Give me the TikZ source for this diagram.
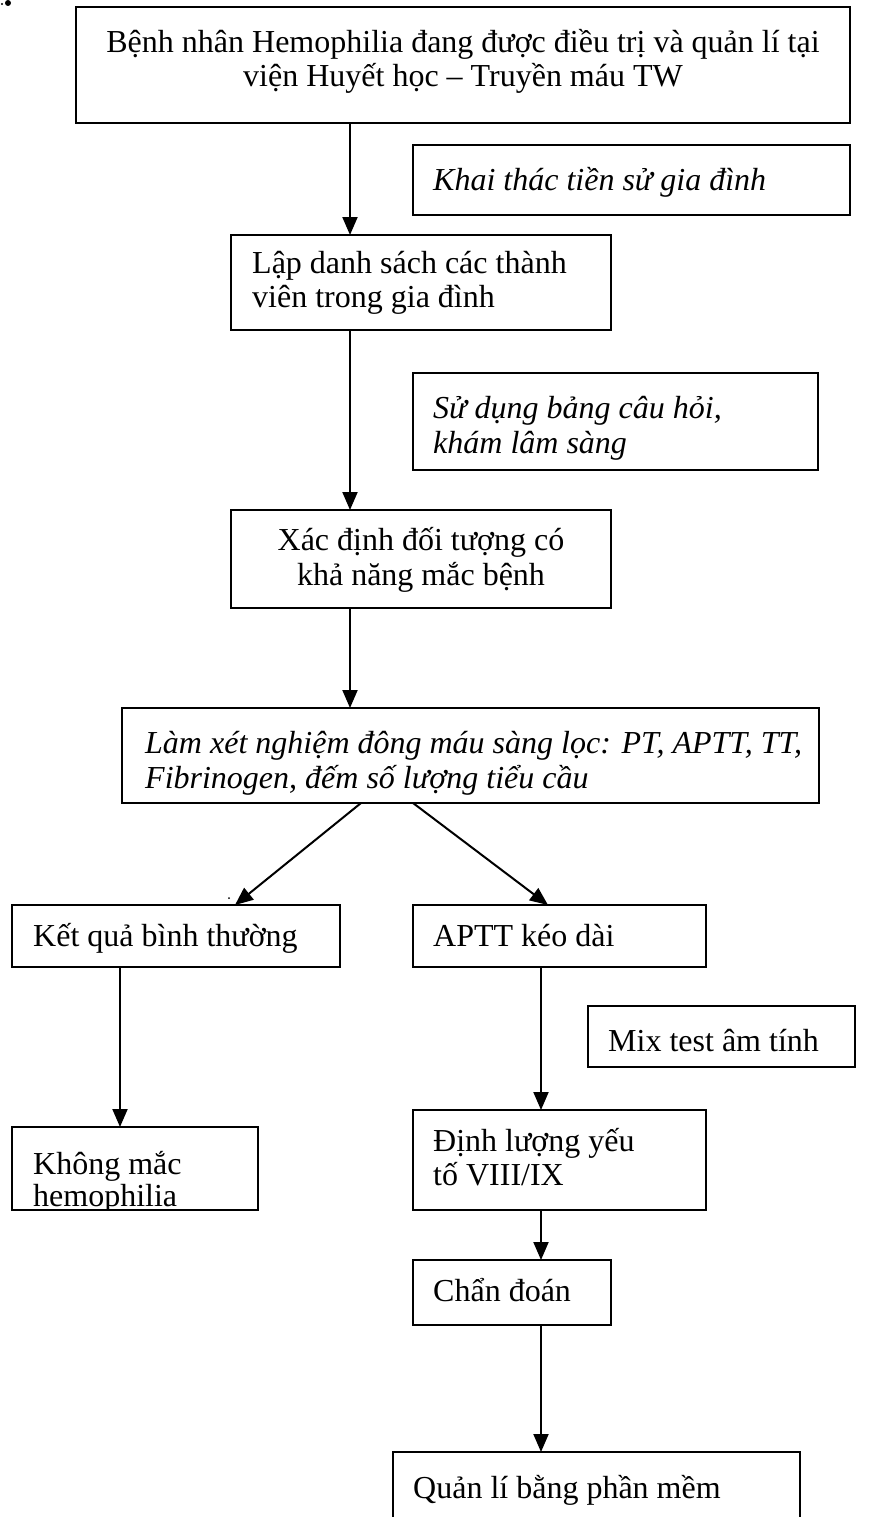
\documentclass[tikz,border=0pt]{standalone}
\usepackage{fontspec}
\setmainfont{Liberation Serif}
\usetikzlibrary{arrows.meta,calc}
\tikzset{
  boxn/.style={draw, line width=2pt, anchor=north west, inner sep=0pt, outer sep=0pt},
  txt/.style={anchor=base west, inner sep=0pt, font=\fontsize{32}{35}\selectfont},
  itxt/.style={txt, font=\fontsize{32}{35}\selectfont\itshape},
  ctxt/.style={txt, anchor=base},
  arr/.style={line width=2pt, -{Triangle[length=18pt,width=15pt]}},
}
\newcommand{\bx}[5]{\node[boxn, minimum width=#4pt, minimum height=#5pt] (#1) at (#2pt,-#3pt) {};}
\begin{document}
\begin{tikzpicture}[x=1pt,y=1pt]
\clip (0,0) rectangle (888,-1517);
\fill[white] (0,0) rectangle (888,-1517);
% stray marks
\fill (2,-4) circle (1.2) (8,-3) circle (3);
\fill (229,-898) circle (1);
% boxes
\bx{b1}{76}{7}{774}{116}
\bx{b2}{413}{145}{437}{70}
\bx{b3}{231}{235}{380}{95}
\bx{b4}{413}{373}{405}{97}
\bx{b5}{231}{510}{380}{98}
\bx{b6}{122}{708}{697}{95}
\bx{b7}{12}{905}{328}{62}
\bx{b8}{413}{905}{293}{62}
\bx{b9}{588}{1006}{267}{61}
\bx{b10}{413}{1110}{293}{100}
\bx{b11}{12}{1127}{246}{83}
\bx{b12}{413}{1260}{198}{65}
\bx{b13}{393}{1452}{407}{100}
% texts
\node[ctxt] (t1a) at (463,-53) {Bệnh nhân Hemophilia đang được điều trị và quản lí tại};
\node[ctxt] (t1b) at (463,-87) {viện Huyết học – Truyền máu TW};
\node[itxt] (t2) at (433,-190) {Khai thác tiền sử gia đình};
\node[txt] (t3a) at (252,-273) {Lập danh sách các thành};
\node[txt] (t3b) at (252,-307) {viên trong gia đình};
\node[itxt] (t4a) at (433,-418) {Sử dụng bảng câu hỏi,};
\node[itxt] (t4b) at (433,-453) {khám lâm sàng};
\node[ctxt] (t5a) at (421,-550) {Xác định đối tượng có};
\node[ctxt] (t5b) at (421,-585) {khả năng mắc bệnh};
\node[itxt] (t6a) at (145,-753) {Làm xét nghiệm đông máu sàng lọc: PT, APTT, TT,};
\node[itxt] (t6b) at (145,-788) {Fibrinogen, đếm số lượng tiểu cầu};
\node[txt] (t7) at (33,-946) {Kết quả bình thường};
\node[txt] (t8) at (433,-946) {APTT kéo dài};
\node[txt] (t9) at (608,-1051) {Mix test âm tính};
\node[txt] (t10a) at (433,-1151) {Định lượng yếu};
\node[txt] (t10b) at (433,-1185) {tố VIII/IX};
\node[txt] (t11a) at (33,-1174) {Không mắc};
\begin{scope}
\clip (b11.north west) rectangle (b11.south east);
\node[txt] (t11b) at (33,-1206) {hemophilia};
\end{scope}
\node[txt] (t12) at (433,-1301) {Chẩn đoán};
\node[txt] (t13) at (413,-1498) {Quản lí bằng phần mềm};
% arrows
\draw[arr] ([xshift=274pt]b1.south west) -- ([xshift=119pt]b3.north west);
\draw[arr] ([xshift=119pt]b3.south west) -- ([xshift=119pt]b5.north west);
\draw[arr] ([xshift=119pt]b5.south west) -- ([xshift=228pt]b6.north west);
\draw[arr] ([xshift=239pt]b6.south west) -- ([xshift=223pt]b7.north west);
\draw[arr] ([xshift=291pt]b6.south west) -- ([xshift=135pt]b8.north west);
\draw[arr] ([xshift=108pt]b7.south west) -- ([xshift=108pt]b11.north west);
\draw[arr] ([xshift=128pt]b8.south west) -- ([xshift=128pt]b10.north west);
\draw[arr] ([xshift=128pt]b10.south west) -- ([xshift=128pt]b12.north west);
\draw[arr] ([xshift=128pt]b12.south west) -- ([xshift=148pt]b13.north west);
\end{tikzpicture}
\end{document}
